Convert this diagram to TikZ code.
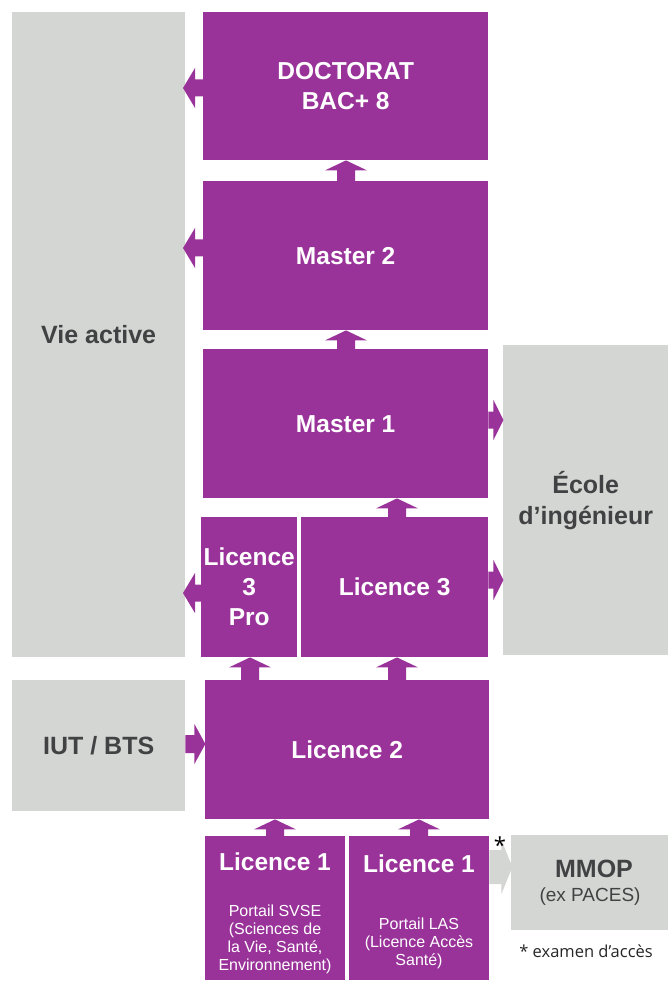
\documentclass[tikz,border=0pt]{standalone}
\usepackage{fontspec}
\setmainfont{Liberation Sans}
\newfontfamily\osans{Open Sans}
\usetikzlibrary{calc}
\definecolor{pur}{RGB}{153,51,153}
\definecolor{gry}{RGB}{212,214,211}
\definecolor{dgr}{RGB}{66,66,68}
% horizontal block arrow: color, point, dir, shaft len, head len, shaft half, head half
\newcommand\harr[7]{\fill[#1] ($#2+(0,-#6)$) -- ($#2+({#3*#4},-#6)$) -- ($#2+({#3*#4},-#7)$) -- ($#2+({#3*(#4+#5)},0)$) -- ($#2+({#3*#4},#7)$) -- ($#2+({#3*#4},#6)$) -- ($#2+(0,#6)$) -- cycle;}
% vertical block arrow: color, x, lower node, upper node
\newcommand\varr[4]{\fill[#1] ($(#2,0|-#3.north)+(-9,0)$) -- ($(#2,0|-#4.south)+(-9,10)$) -- ($(#2,0|-#4.south)+(-21,10)$) -- (#2,0|-#4.south) -- ($(#2,0|-#4.south)+(21,10)$) -- ($(#2,0|-#4.south)+(9,10)$) -- ($(#2,0|-#3.north)+(9,0)$) -- cycle;}
\begin{document}
\begin{tikzpicture}[x=1pt,y=-1pt,
  pbox/.style={fill=pur,text=white,inner sep=0pt,anchor=north west,align=center,font=\fontsize{24.5}{30}\selectfont\bfseries},
  gbox/.style={fill=gry,text=dgr,inner sep=0pt,anchor=north west,align=center,font=\fontsize{25}{31}\selectfont\bfseries},
  subtxt/.style={text=white,align=center,font=\fontsize{16}{18}\selectfont},
  ttl/.style={text=white,font=\fontsize{24.5}{30}\selectfont\bfseries}]
\useasboundingbox (0,0) rectangle (668,981);
% gray boxes
\node[gbox,minimum width=173,minimum height=645] (vie) at (12,12) {Vie active};
\node[gbox,minimum width=165,minimum height=310] (ecole) at (503,345) {École\\d’ingénieur};
\node[gbox,minimum width=173,minimum height=131] (iut) at (12,680) {IUT / BTS};
\node[gbox,minimum width=157,minimum height=95] (mmop) at (511,835) {};
\node[text=dgr,font=\fontsize{25}{30}\selectfont\bfseries] (mmopt) at (594,869) {MMOP};
\node[text=dgr,font=\fontsize{19}{22}\selectfont] (paces) at (590,897) {(ex PACES)};
% purple boxes
\node[pbox,minimum width=285,minimum height=148] (doc) at (203,12) {DOCTORAT\\BAC+ 8};
\node[pbox,minimum width=285,minimum height=149] (m2) at (203,181) {Master 2};
\node[pbox,minimum width=285,minimum height=149] (m1) at (203,349) {Master 1};
\node[pbox,minimum width=96,minimum height=140] (l3p) at (201,517) {Licence\\3\\Pro};
\node[pbox,minimum width=187,minimum height=140] (l3) at (301,517) {Licence 3};
\node[pbox,minimum width=284,minimum height=139] (l2) at (205,680) {Licence 2};
\node[pbox,minimum width=140,minimum height=144] (l1a) at (205,836) {};
\node[pbox,minimum width=140,minimum height=144] (l1b) at (349,836) {};
\node[ttl] (l1at) at (275,862) {Licence 1};
\node[ttl] (l1bt) at (419,864) {Licence 1};
\node[subtxt] (l1as) at (275,939) {Portail SVSE\\(Sciences de\\la Vie, Santé,\\Environnement)};
\node[subtxt] (l1bs) at (419,943) {Portail LAS\\(Licence Accès\\Santé)};
% vertical arrows
\varr{pur}{346}{m2}{doc}
\varr{pur}{346}{m1}{m2}
\varr{pur}{397}{l3}{m1}
\varr{pur}{250}{l2}{l3p}
\varr{pur}{397}{l2}{l3}
\varr{pur}{275}{l1a}{l2}
\varr{pur}{419}{l1b}{l2}
% horizontal arrows
\harr{pur}{(doc.west|-0,88)}{-1}{8}{12}{8.5}{20}
\harr{pur}{(m2.west|-0,248)}{-1}{8}{12}{8.5}{20}
\harr{pur}{(l3p.west|-0,593)}{-1}{6}{12}{8.5}{20}
\harr{pur}{(m1.east|-0,420)}{1}{5}{10}{8.5}{20}
\harr{pur}{(l3.east|-0,580)}{1}{5}{10}{8.5}{20}
\harr{pur}{(iut.east|-0,744)}{1}{9}{11}{9}{20}
\harr{gry}{(l1b.east|-0,867)}{1}{12}{11}{17}{27}
% notes
\node[font=\osans\fontsize{22}{22}\selectfont] (ast) at (500,845) {*};
\node[font=\osans\fontsize{16.5}{18}\selectfont,text=black!85] (note) at (586,951) {* examen d’accès};
\end{tikzpicture}
\end{document}
